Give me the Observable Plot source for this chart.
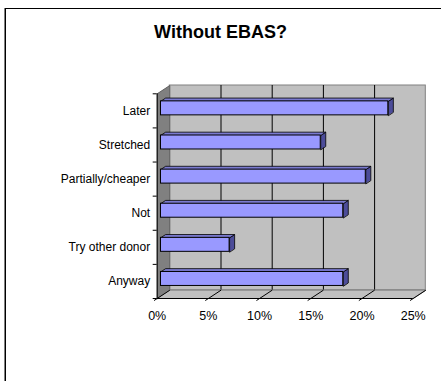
<!DOCTYPE html>
<html>
<head>
<meta charset="utf-8">
<script src="https://cdn.jsdelivr.net/npm/d3@7"></script>
<script src="https://cdn.jsdelivr.net/npm/@observablehq/plot@0.6"></script>
<style>
  body { margin: 0; background: #fff; font-family: "Liberation Sans", Arial, sans-serif; }
  #frame { position: absolute; left: 5px; top: 8px; width: 480px; height: 420px; border: 1px solid #000; box-shadow: -1px 0 0 #808080; box-sizing: border-box; }
  #title { position: absolute; left: 0; width: 441px; top: 22px; text-align: center; font-weight: bold; font-size: 18px; color: #000; }
  #chart { position: absolute; left: 0; top: 50px; }
</style>
</head>
<body>
<div id="frame"></div>
<div id="title">Without EBAS?</div>
<div id="chart"></div>
<script>
// Answers, top row first, share of respondents in percent
const categories = ["Later", "Stretched", "Partially/cheaper", "Not", "Try other donor", "Anyway"];
const values = [22.2, 15.6, 20.0, 17.8, 6.7, 17.8];
const xTicks = [0, 5, 10, 15, 20, 25];

// Layout of the front plane of the 3D box (pixels in the SVG)
const W = 441, H = 331;
const boxLeft = 156.7, boxRight = 412.7, boxTop = 43.3, boxBottom = 248;
const DX = 12.6, DY = 8.3;          // depth offset of the back wall
const f0 = 0.3, f1 = 0.7;           // bar depth: front and back
const n = categories.length;
const xMax = 25;
const kx = xMax / (boxRight - boxLeft), ky = n / (boxBottom - boxTop);

// project a point at depth d (0 = front, 1 = back) into data coordinates
const P = (x, y, d, id) => ({x: x + d * DX * kx, y: y + d * DY * ky, id});

const rows = categories.map((c, i) => ({
  c, v: values[i],
  b: n - 1 - i + 0.295,
  t: n - 1 - i + 0.705,
  mid: n - 1 - i + 0.5
}));

const sideWall = [P(0, 0, 0, "s"), P(0, n, 0, "s"), P(0, n, 1, "s"), P(0, 0, 1, "s")];
const floor = [P(0, 0, 0, "f"), P(xMax, 0, 0, "f"), P(xMax, 0, 1, "f"), P(0, 0, 1, "f")];
const topFaces = rows.flatMap(r => [P(0, r.t, f0, r.c), P(r.v, r.t, f0, r.c), P(r.v, r.t, f1, r.c), P(0, r.t, f1, r.c)]);
const endFaces = rows.flatMap(r => [P(r.v, r.b, f0, r.c), P(r.v, r.t, f0, r.c), P(r.v, r.t, f1, r.c), P(r.v, r.b, f1, r.c)]);
const floorTicks = xTicks.map(t => ({a: P(t, 0, 1), z: P(t, 0, -0.25)}));

const chart = Plot.plot({
  width: W, height: H,
  marginLeft: boxLeft, marginRight: W - boxRight, marginTop: boxTop, marginBottom: H - boxBottom,
  x: {domain: [0, xMax], axis: null},
  y: {domain: [0, n], axis: null},
  style: {fontFamily: "'Liberation Sans', Arial, sans-serif", fontSize: "12px", color: "#000", background: "transparent"},
  marks: [
    // back wall with gridlines
    Plot.rect([0], {x1: 0, x2: xMax, y1: 0, y2: n, dx: DX, dy: -DY, fill: "#c0c0c0", stroke: "#808080", strokeWidth: 1}),
    Plot.ruleX(xTicks.slice(1, -1), {y1: 0, y2: n, dx: DX, dy: -DY, stroke: "#000", strokeWidth: 1}),
    // side wall and floor
    Plot.line(sideWall, {x: "x", y: "y", z: "id", curve: "linear-closed", fill: "#808080", stroke: "#606060", strokeWidth: 1}),
    Plot.line(floor, {x: "x", y: "y", z: "id", curve: "linear-closed", fill: "#c0c0c0", stroke: "#808080", strokeWidth: 1}),
    Plot.link(floorTicks, {x1: d => d.a.x, y1: d => d.a.y, x2: d => d.z.x, y2: d => d.z.y, stroke: "#000", strokeWidth: 1}),
    // front axis lines and category ticks
    Plot.ruleY([0], {x1: 0, x2: xMax, stroke: "#000", strokeWidth: 1}),
    Plot.ruleX([0], {y1: 0, y2: n, stroke: "#000", strokeWidth: 1}),
    Plot.ruleY(d3.range(n + 1), {x1: -4 * kx, x2: 0, stroke: "#000", strokeWidth: 1}),
    // bars: end face, top face, front face
    Plot.line(endFaces, {x: "x", y: "y", z: "id", curve: "linear-closed", fill: "#4c4c99", stroke: "#000", strokeWidth: 0.8}),
    Plot.line(topFaces, {x: "x", y: "y", z: "id", curve: "linear-closed", fill: "#7a7ad0", stroke: "#000", strokeWidth: 0.8}),
    Plot.rect(rows, {x1: 0, x2: "v", y1: "b", y2: "t", dx: f0 * DX, dy: -f0 * DY, fill: "#9999ff", stroke: "#000", strokeWidth: 1}),
    // labels
    Plot.text(rows, {x: 0, y: "mid", text: "c", dx: -7, textAnchor: "end", fill: "#000", fontSize: 12}),
    Plot.text(xTicks, {x: d => d, y: 0, text: d => d + "%", dy: 17, fill: "#000", fontSize: 12.5})
  ]
});
document.getElementById("chart").appendChild(chart);
</script>
</body>
</html>
